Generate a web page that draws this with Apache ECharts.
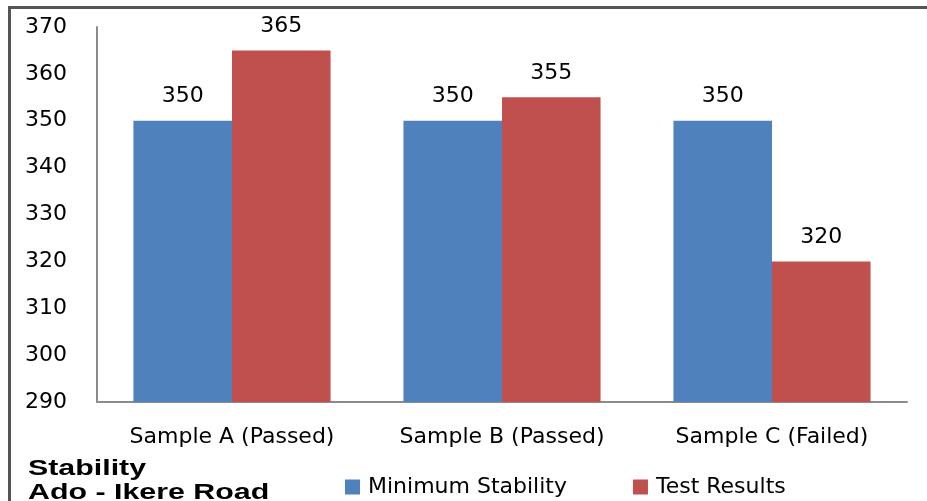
<!DOCTYPE html>
<html>
<head>
<meta charset="utf-8">
<script src="https://cdn.jsdelivr.net/npm/echarts@6/dist/echarts.min.js"></script>
<style>
html,body{margin:0;padding:0;background:#fff;}
#chart{width:927px;height:501px;}
</style>
</head>
<body>
<div id="chart"></div>
<script>
// Marshall stability per sample, Ado - Ikere Road
const categories = ['Sample A (Passed)', 'Sample B (Passed)', 'Sample C (Failed)'];
const minimumStability = [350, 350, 350];
const testResults = [365, 355, 320];
const seriesNames = ['Minimum Stability', 'Test Results'];
const titleLines = ['Stability', 'Ado - Ikere Road'];

const chart = echarts.init(document.getElementById('chart'), null, { renderer: 'canvas' });
const font = 'DejaVu Sans';
const valueLabel = { show: true, position: 'top', distance: 13, color: '#000', fontFamily: font, fontSize: 22 };

chart.setOption({
  animation: false,
  backgroundColor: '#fff',
  grid: { left: 97, right: 20, top: 27, bottom: 99, containLabel: false },
  xAxis: {
    type: 'category',
    data: categories,
    axisLine: { lineStyle: { color: '#8c8c8c', width: 2 } },
    axisTick: { show: false },
    axisLabel: { color: '#000', fontFamily: font, fontSize: 22, margin: 24 },
    splitLine: { show: false }
  },
  yAxis: {
    type: 'value',
    min: 290,
    max: 370,
    interval: 10,
    axisLine: { show: true, lineStyle: { color: '#8c8c8c', width: 2 } },
    axisTick: { show: false },
    axisLabel: { color: '#000', fontFamily: font, fontSize: 22, margin: 30 },
    splitLine: { show: false }
  },
  legend: {
    left: 340,
    top: 471,
    itemWidth: 15,
    itemHeight: 15,
    itemGap: 66,
    icon: 'rect',
    textStyle: { color: '#000', fontFamily: font, fontSize: 22, padding: [0, 0, 0, 3] },
    data: seriesNames
  },
  series: [
    {
      name: seriesNames[0],
      type: 'bar',
      data: minimumStability,
      barGap: '0%',
      barCategoryGap: '27%',
      itemStyle: { color: '#4F81BD' },
      label: valueLabel
    },
    {
      name: seriesNames[1],
      type: 'bar',
      data: testResults,
      itemStyle: { color: '#C0504D' },
      label: valueLabel
    }
  ],
  graphic: [
    {
      type: 'polyline',
      shape: { points: [[9.5, 520], [9.5, 7.5], [940, 7.5]] },
      style: { stroke: '#555', lineWidth: 3, fill: null }
    },
    {
      type: 'text',
      x: 28,
      y: 457,
      scaleX: 1.38,
      style: {
        text: titleLines.join('\n'),
        font: 'bold 22px "Liberation Sans", Arial, sans-serif',
        fill: '#000',
        lineHeight: 24
      }
    }
  ]
});
</script>
</body>
</html>
